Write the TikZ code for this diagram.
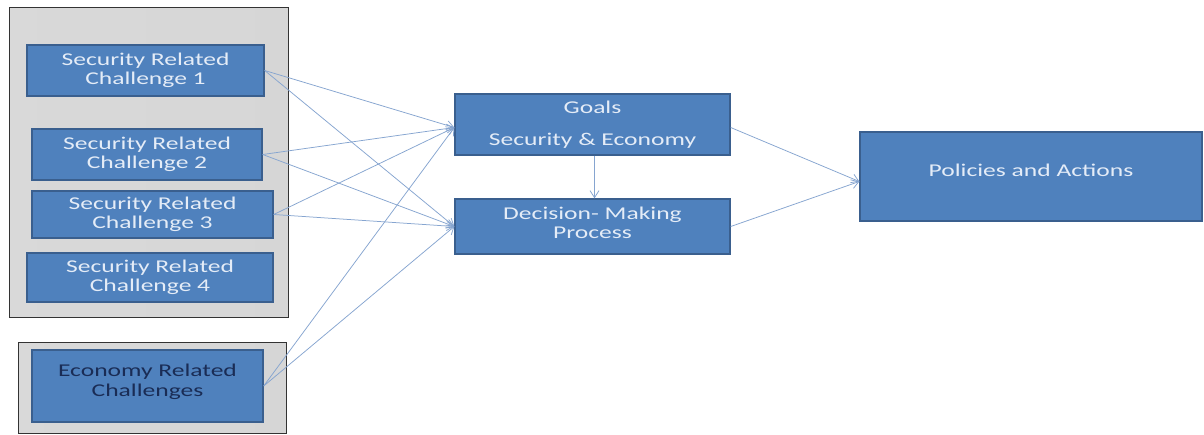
\documentclass[tikz,border=0pt]{standalone}
\usepackage{fontspec}
\setmainfont{Carlito}[FakeStretch=1.42]
\usetikzlibrary{arrows.meta,shadows}
\definecolor{boxblue}{HTML}{4F81BD}
\definecolor{boxedge}{HTML}{3A5F8E}
\definecolor{linkblue}{HTML}{86A5D0}
\definecolor{lighttext}{HTML}{E4ECF7}
\definecolor{darktext}{HTML}{1A2C55}
\tikzset{
  holder/.style={draw=black!80, line width=0.9pt, left color=gray!30, middle color=gray!13, right color=gray!32, shading angle=90},
  bluebox/.style={rectangle, fill=boxblue, draw=boxedge, line width=1.4pt, text=lighttext, font=\fontsize{18}{19.5}\selectfont, align=center, inner sep=0pt},
  link/.style={draw=linkblue, line width=0.75pt, -{Straight Barb[length=7pt,width=9pt]}}
}
\begin{document}
\begin{tikzpicture}[x=1pt,y=-1pt]
\useasboundingbox (0,0) rectangle (1204,434);
\fill[white] (0,0) rectangle (1204,434);
% containers
\path[holder] (9,7) rectangle (288,317);
\path[holder] (18,342) rectangle (286,433);
% boxes
\node[bluebox, minimum width=237pt, minimum height=51pt] (s1) at (145.5,70.5) {Security Related\\Challenge 1};
\node[bluebox, minimum width=230pt, minimum height=51pt] (s2) at (147,154.5) {Security Related\\Challenge 2};
\node[bluebox, minimum width=241pt, minimum height=47pt] (s3) at (152.5,214.5) {Security Related\\Challenge 3};
\node[bluebox, minimum width=246pt, minimum height=49pt] (s4) at (150,277.5) {Security Related\\Challenge 4};
\node[bluebox, minimum width=231pt, minimum height=72pt, text=darktext, text depth=12pt] (ec) at (147.5,386) {Economy Related\\Challenges};
\node[bluebox, minimum width=275pt, minimum height=61pt] (goals) at (592.5,124.5) {Goals\\[12pt]Security \& Economy};
\node[bluebox, minimum width=275pt, minimum height=55pt, text depth=8pt] (dm) at (592.5,226.5) {Decision- Making\\Process};
\node[bluebox, minimum width=342pt, minimum height=89pt, text depth=12pt] (pa) at (1031,176.5) {Policies and Actions};
% links
\foreach \s in {s1,s2,s3,ec}{
  \draw[link] (\s.east) -- ([yshift=-3pt]goals.west);
  \draw[link] (\s.east) -- (dm.west);
}
\draw[link] ([xshift=2pt]goals.south) -- ([xshift=2pt]dm.north);
\draw[link] ([yshift=-3pt]goals.east) -- ([yshift=-5pt]pa.west);
\draw[link] (dm.east) -- ([yshift=-5pt]pa.west);
\end{tikzpicture}
\end{document}
